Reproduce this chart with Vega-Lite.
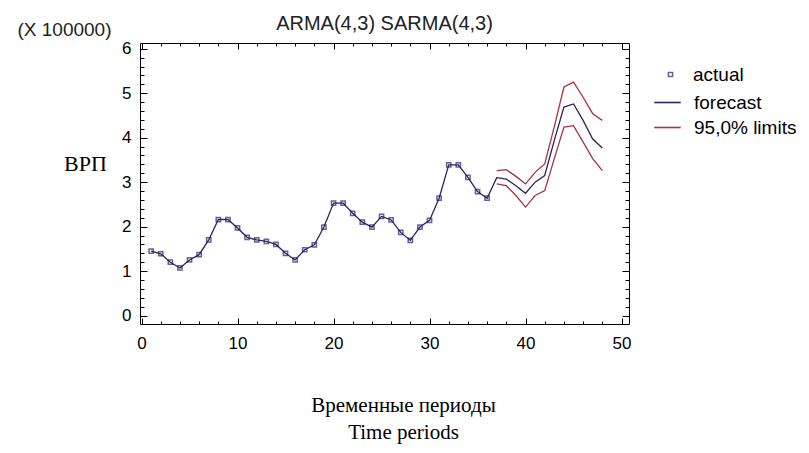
{
  "$schema": "https://vega.github.io/schema/vega-lite/v6.json",
  "autosize": "none",
  "width": 489,
  "height": 281,
  "padding": {"left": 140, "top": 43, "right": 180, "bottom": 129},
  "background": "white",
  "config": {
    "view": {"stroke": "black", "strokeWidth": 1},
    "font": "Liberation Sans"
  },
  "title": {
    "text": "ARMA(4,3) SARMA(4,3)",
    "font": "Liberation Sans",
    "fontSize": 20,
    "fontWeight": "normal",
    "color": "#222",
    "anchor": "middle",
    "offset": -14
  },
  "datasets": {
    "actual": [
      {"t": 1, "value": 1.45, "series": "actual"},
      {"t": 2, "value": 1.39, "series": "actual"},
      {"t": 3, "value": 1.20, "series": "actual"},
      {"t": 4, "value": 1.07, "series": "actual"},
      {"t": 5, "value": 1.25, "series": "actual"},
      {"t": 6, "value": 1.37, "series": "actual"},
      {"t": 7, "value": 1.70, "series": "actual"},
      {"t": 8, "value": 2.16, "series": "actual"},
      {"t": 9, "value": 2.16, "series": "actual"},
      {"t": 10, "value": 1.97, "series": "actual"},
      {"t": 11, "value": 1.76, "series": "actual"},
      {"t": 12, "value": 1.70, "series": "actual"},
      {"t": 13, "value": 1.67, "series": "actual"},
      {"t": 14, "value": 1.60, "series": "actual"},
      {"t": 15, "value": 1.40, "series": "actual"},
      {"t": 16, "value": 1.25, "series": "actual"},
      {"t": 17, "value": 1.48, "series": "actual"},
      {"t": 18, "value": 1.59, "series": "actual"},
      {"t": 19, "value": 1.99, "series": "actual"},
      {"t": 20, "value": 2.53, "series": "actual"},
      {"t": 21, "value": 2.53, "series": "actual"},
      {"t": 22, "value": 2.30, "series": "actual"},
      {"t": 23, "value": 2.10, "series": "actual"},
      {"t": 24, "value": 1.99, "series": "actual"},
      {"t": 25, "value": 2.23, "series": "actual"},
      {"t": 26, "value": 2.15, "series": "actual"},
      {"t": 27, "value": 1.87, "series": "actual"},
      {"t": 28, "value": 1.69, "series": "actual"},
      {"t": 29, "value": 1.99, "series": "actual"},
      {"t": 30, "value": 2.14, "series": "actual"},
      {"t": 31, "value": 2.64, "series": "actual"},
      {"t": 32, "value": 3.39, "series": "actual"},
      {"t": 33, "value": 3.39, "series": "actual"},
      {"t": 34, "value": 3.11, "series": "actual"},
      {"t": 35, "value": 2.79, "series": "actual"},
      {"t": 36, "value": 2.64, "series": "actual"}
    ],
    "forecast": [
      {"t": 1, "value": 1.45, "series": "forecast"},
      {"t": 2, "value": 1.39, "series": "forecast"},
      {"t": 3, "value": 1.20, "series": "forecast"},
      {"t": 4, "value": 1.07, "series": "forecast"},
      {"t": 5, "value": 1.25, "series": "forecast"},
      {"t": 6, "value": 1.37, "series": "forecast"},
      {"t": 7, "value": 1.70, "series": "forecast"},
      {"t": 8, "value": 2.16, "series": "forecast"},
      {"t": 9, "value": 2.16, "series": "forecast"},
      {"t": 10, "value": 1.97, "series": "forecast"},
      {"t": 11, "value": 1.76, "series": "forecast"},
      {"t": 12, "value": 1.70, "series": "forecast"},
      {"t": 13, "value": 1.67, "series": "forecast"},
      {"t": 14, "value": 1.60, "series": "forecast"},
      {"t": 15, "value": 1.40, "series": "forecast"},
      {"t": 16, "value": 1.25, "series": "forecast"},
      {"t": 17, "value": 1.48, "series": "forecast"},
      {"t": 18, "value": 1.59, "series": "forecast"},
      {"t": 19, "value": 1.99, "series": "forecast"},
      {"t": 20, "value": 2.53, "series": "forecast"},
      {"t": 21, "value": 2.53, "series": "forecast"},
      {"t": 22, "value": 2.30, "series": "forecast"},
      {"t": 23, "value": 2.10, "series": "forecast"},
      {"t": 24, "value": 1.99, "series": "forecast"},
      {"t": 25, "value": 2.23, "series": "forecast"},
      {"t": 26, "value": 2.15, "series": "forecast"},
      {"t": 27, "value": 1.87, "series": "forecast"},
      {"t": 28, "value": 1.69, "series": "forecast"},
      {"t": 29, "value": 1.99, "series": "forecast"},
      {"t": 30, "value": 2.14, "series": "forecast"},
      {"t": 31, "value": 2.64, "series": "forecast"},
      {"t": 32, "value": 3.39, "series": "forecast"},
      {"t": 33, "value": 3.39, "series": "forecast"},
      {"t": 34, "value": 3.11, "series": "forecast"},
      {"t": 35, "value": 2.79, "series": "forecast"},
      {"t": 36, "value": 2.64, "series": "forecast"},
      {"t": 37, "value": 3.10, "series": "forecast"},
      {"t": 38, "value": 3.07, "series": "forecast"},
      {"t": 39, "value": 2.92, "series": "forecast"},
      {"t": 40, "value": 2.75, "series": "forecast"},
      {"t": 41, "value": 3.00, "series": "forecast"},
      {"t": 42, "value": 3.15, "series": "forecast"},
      {"t": 43, "value": 3.94, "series": "forecast"},
      {"t": 44, "value": 4.69, "series": "forecast"},
      {"t": 45, "value": 4.76, "series": "forecast"},
      {"t": 46, "value": 4.39, "series": "forecast"},
      {"t": 47, "value": 3.97, "series": "forecast"},
      {"t": 48, "value": 3.77, "series": "forecast"}
    ],
    "limits": [
      {"t": 37, "value": 3.26, "series": "95,0% limits", "bound": "upper"},
      {"t": 38, "value": 3.28, "series": "95,0% limits", "bound": "upper"},
      {"t": 39, "value": 3.13, "series": "95,0% limits", "bound": "upper"},
      {"t": 40, "value": 2.96, "series": "95,0% limits", "bound": "upper"},
      {"t": 41, "value": 3.22, "series": "95,0% limits", "bound": "upper"},
      {"t": 42, "value": 3.41, "series": "95,0% limits", "bound": "upper"},
      {"t": 43, "value": 4.25, "series": "95,0% limits", "bound": "upper"},
      {"t": 44, "value": 5.14, "series": "95,0% limits", "bound": "upper"},
      {"t": 45, "value": 5.25, "series": "95,0% limits", "bound": "upper"},
      {"t": 46, "value": 4.91, "series": "95,0% limits", "bound": "upper"},
      {"t": 47, "value": 4.54, "series": "95,0% limits", "bound": "upper"},
      {"t": 48, "value": 4.39, "series": "95,0% limits", "bound": "upper"},
      {"t": 37, "value": 2.96, "series": "95,0% limits", "bound": "lower"},
      {"t": 38, "value": 2.92, "series": "95,0% limits", "bound": "lower"},
      {"t": 39, "value": 2.70, "series": "95,0% limits", "bound": "lower"},
      {"t": 40, "value": 2.44, "series": "95,0% limits", "bound": "lower"},
      {"t": 41, "value": 2.70, "series": "95,0% limits", "bound": "lower"},
      {"t": 42, "value": 2.81, "series": "95,0% limits", "bound": "lower"},
      {"t": 43, "value": 3.53, "series": "95,0% limits", "bound": "lower"},
      {"t": 44, "value": 4.24, "series": "95,0% limits", "bound": "lower"},
      {"t": 45, "value": 4.27, "series": "95,0% limits", "bound": "lower"},
      {"t": 46, "value": 3.90, "series": "95,0% limits", "bound": "lower"},
      {"t": 47, "value": 3.53, "series": "95,0% limits", "bound": "lower"},
      {"t": 48, "value": 3.26, "series": "95,0% limits", "bound": "lower"}
    ]
  },
  "resolve": {"axis": {"x": "independent", "y": "independent"}},
  "layer": [
    {
      "data": {"name": "limits"},
      "mark": {"type": "line", "strokeWidth": 1.3},
      "encoding": {
        "x": {
          "field": "t", "type": "quantitative",
          "scale": {"domain": [-0.16, 50.78], "nice": false, "zero": false},
          "axis": {
            "orient": "top", "values": [0,2,4,6,8,10,12,14,16,18,20,22,24,26,28,30,32,34,36,38,40,42,44,46,48,50],
            "labels": false, "grid": false, "domain": false, "tickColor": "black",
            "tickSize": {"condition": {"test": "datum.value % 10 === 0", "value": -6}, "value": -3},
            "title": null
          }
        },
        "y": {
          "field": "value", "type": "quantitative",
          "scale": {"domain": [-0.19, 6.13], "nice": false, "zero": false},
          "axis": {
            "orient": "right",
            "values": [0,0.2,0.4,0.6,0.8,1,1.2,1.4,1.6,1.8,2,2.2,2.4,2.6,2.8,3,3.2,3.4,3.6,3.8,4,4.2,4.4,4.6,4.8,5,5.2,5.4,5.6,5.8,6],
            "labels": false, "grid": false, "domain": false, "tickColor": "black",
            "tickSize": {"condition": {"test": "abs(datum.value - round(datum.value)) < 0.01", "value": -7}, "value": -4},
            "title": "ВРП", "titleAngle": 0, "titleFont": "Liberation Serif", "titleFontSize": 22,
            "titleFontWeight": "normal", "titleColor": "black",
            "titleX": -544, "titleY": 120, "titleAlign": "center", "titleBaseline": "middle"
          }
        },
        "color": {
          "field": "series", "type": "nominal",
          "scale": {"domain": ["forecast", "95,0% limits"], "range": ["#2e2258", "#a8304a"]},
          "legend": {
            "title": null, "orient": "none", "legendX": 513, "legendY": 45, "padding": 0,
            "labelFont": "Liberation Sans", "labelFontSize": 19, "labelColor": "black",
            "symbolType": "stroke", "symbolSize": 700, "symbolStrokeWidth": 1.6,
            "rowPadding": 0, "labelOffset": 12
          }
        },
        "detail": {"field": "bound"}
      }
    },
    {
      "data": {"name": "forecast"},
      "mark": {"type": "line", "strokeWidth": 1.3},
      "encoding": {
        "x": {
          "field": "t", "type": "quantitative",
          "axis": {
            "orient": "bottom", "values": [0,2,4,6,8,10,12,14,16,18,20,22,24,26,28,30,32,34,36,38,40,42,44,46,48,50],
            "labelExpr": "datum.value % 10 === 0 ? datum.label : ''", "labelOverlap": false,
            "labelFont": "Liberation Sans", "labelFontSize": 17, "labelColor": "black", "labelPadding": 17,
            "grid": false, "domain": false, "tickColor": "black",
            "tickSize": {"condition": {"test": "datum.value % 10 === 0", "value": -6}, "value": -3},
            "title": ["Временные периоды", "Time periods"],
            "titleFont": "Liberation Serif", "titleFontSize": 21, "titleFontWeight": "normal", "titleColor": "black",
            "titleLineHeight": 27, "titleX": 263, "titleY": 70, "titleAlign": "center", "titleBaseline": "top"
          }
        },
        "y": {
          "field": "value", "type": "quantitative",
          "axis": {
            "orient": "left",
            "values": [0,0.2,0.4,0.6,0.8,1,1.2,1.4,1.6,1.8,2,2.2,2.4,2.6,2.8,3,3.2,3.4,3.6,3.8,4,4.2,4.4,4.6,4.8,5,5.2,5.4,5.6,5.8,6],
            "labelExpr": "abs(datum.value - round(datum.value)) < 0.01 ? '' + round(datum.value) : ''", "labelOverlap": false,
            "labelFont": "Liberation Sans", "labelFontSize": 17, "labelColor": "black", "labelPadding": 16,
            "grid": false, "domain": false, "tickColor": "black",
            "tickSize": {"condition": {"test": "abs(datum.value - round(datum.value)) < 0.01", "value": -7}, "value": -4},
            "title": "(X 100000)", "titleAngle": 0, "titleFont": "Liberation Sans", "titleFontSize": 19,
            "titleFontWeight": "normal", "titleColor": "#222",
            "titleX": -76, "titleY": -14, "titleAlign": "center", "titleBaseline": "middle"
          }
        },
        "color": {"field": "series", "type": "nominal"}
      }
    },
    {
      "data": {"name": "actual"},
      "mark": {"type": "point", "shape": "square", "filled": false, "size": 18, "strokeWidth": 1.5, "color": "#23206e"},
      "encoding": {
        "x": {"field": "t", "type": "quantitative", "axis": null},
        "y": {"field": "value", "type": "quantitative", "axis": null},
        "shape": {
          "field": "series", "type": "nominal",
          "scale": {"domain": ["actual"], "range": ["square"]},
          "legend": {
            "title": null, "orient": "none", "legendX": 521, "legendY": 22, "padding": 0,
            "labelFont": "Liberation Sans", "labelFontSize": 19, "labelColor": "black",
            "symbolSize": 18, "symbolStrokeWidth": 1.5, "symbolStrokeColor": "#23206e", "symbolFillColor": "#9090c0",
            "labelOffset": 13
          }
        }
      }
    }
  ]
}
